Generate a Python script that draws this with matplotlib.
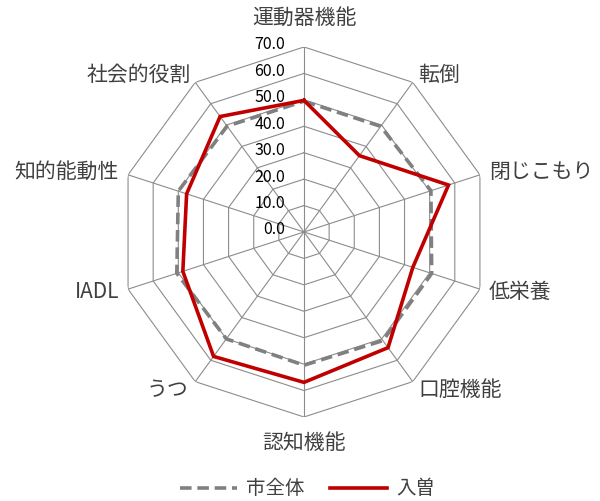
import numpy as np
import matplotlib
matplotlib.use("Agg")
import matplotlib.pyplot as plt

plt.rcParams['font.family'] = ['Noto Sans CJK JP', 'DejaVu Sans']

categories = ["運動器機能", "転倒", "閉じこもり", "低栄養", "口腔機能",
              "認知機能", "うつ", "IADL", "知的能動性", "社会的役割"]
city_all = [49.5, 49.4, 50.5, 50.8, 50.8, 50.4, 50.0, 50.6, 50.0, 49.5]
iriso = [49.8, 35.7, 57.5, 43.3, 54.1, 56.9, 58.2, 48.2, 46.7, 54.0]
series_names = ["市全体", "入曽"]
rticks = [0, 10, 20, 30, 40, 50, 60, 70]
rtick_labels = ["0.0", "10.0", "20.0", "30.0", "40.0", "50.0", "60.0", "70.0"]

fig = plt.figure(figsize=(6.0, 5.01), dpi=100)
ax = fig.add_axes([0.1983, 0.1677, 0.6167, 0.7385], projection='polar')
ax.set_theta_offset(np.pi / 2)
ax.set_theta_direction(-1)
ax.set_ylim(0, 70)
ax.set_xticks([])
ax.set_yticks([])
ax.grid(False)
ax.spines['polar'].set_visible(False)
ax.set_facecolor('none')

n = len(categories)
theta = np.arange(n) * 2 * np.pi / n
theta_c = np.append(theta, theta[0])

gridc = '#8c8c8c'
for r in rticks[1:]:
    ax.plot(theta_c, [r] * (n + 1), color=gridc, lw=0.8, zorder=1)
for t in theta:
    ax.plot([t, t], [0, 70], color=gridc, lw=0.8, zorder=1)

l1, = ax.plot(theta_c, city_all + city_all[:1], color='#808080', lw=2.6,
              linestyle=(0, (3.2, 1.6)), zorder=3, label=series_names[0])
l2, = ax.plot(theta_c, iriso + iriso[:1], color='#C00000', lw=2.6,
              zorder=4, label=series_names[1], solid_joinstyle='miter')

for r, lab in zip(rticks, rtick_labels):
    ax.annotate(lab, xy=(0, r), xytext=(-19, 2), textcoords='offset pixels',
                ha='right', va='center', fontsize=11.5, color='#000000')

offsets = {
    0: (0, 29, 'center', 'center'),
    1: (5, 7, 'left', 'center'),
    2: (9, 3, 'left', 'center'),
    3: (9, -3, 'left', 'center'),
    4: (6, -8, 'left', 'center'),
    5: (0, -26, 'center', 'center'),
    6: (-7, -8, 'right', 'center'),
    7: (-9, -3, 'right', 'center'),
    8: (-9, 3, 'right', 'center'),
    9: (-4, 7, 'right', 'center'),
}
for i, lab in enumerate(categories):
    dx, dy, ha, va = offsets[i]
    ax.annotate(lab, xy=(theta[i], 70), xytext=(dx, dy), textcoords='offset pixels',
                ha=ha, va=va, fontsize=15, color='#404040')

fig.legend(handles=[l1, l2], loc='center', bbox_to_anchor=(0.513, 0.024),
           ncol=2, frameon=False, fontsize=14, handlelength=2.9,
           columnspacing=1.3, handletextpad=0.5, labelcolor='#404040')

fig.savefig('out.png', dpi=100)
